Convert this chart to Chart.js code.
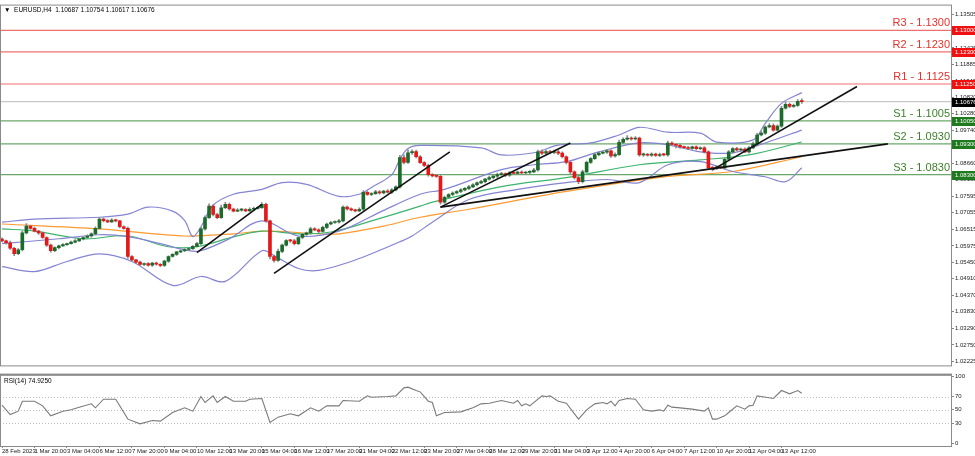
<!DOCTYPE html>
<html>
<head>
<meta charset="utf-8">
<script src="https://cdn.jsdelivr.net/npm/chart.js@4.4.0/dist/chart.umd.min.js"></script>
<style>
  html, body { margin: 0; background: #fff; }
  #main { position: absolute; left: 0; top: 0; width: 975px; height: 370px; }
  #rsi { position: absolute; left: 0; top: 370px; width: 975px; height: 86px; }
</style>
</head>
<body>
<div id="main"><canvas id="c1"></canvas></div>
<div id="rsi"><canvas id="c2"></canvas></div>
<script>
// EURUSD H4 — bougies, bandes de Bollinger, moyennes mobiles, RSI(14)

const closes = [
  1.0614,1.0608,1.0590,1.0572,1.0585,1.0640,1.0662,1.0655,1.0646,1.0640,
  1.0625,1.0600,1.0582,1.0592,1.0598,1.0602,1.0605,1.0610,1.0614,1.0620,
  1.0625,1.0630,1.0637,1.0655,1.0685,1.0680,1.0676,1.0682,1.0679,1.0660,
  1.0655,1.0563,1.0552,1.0545,1.0537,1.0540,1.0535,1.0542,1.0538,1.0534,
  1.0548,1.0563,1.0570,1.0578,1.0582,1.0586,1.0589,1.0596,1.0605,1.0653,
  1.0690,1.0727,1.0700,1.0690,1.0722,1.0733,1.0718,1.0711,1.0714,1.0716,
  1.0712,1.0717,1.0720,1.0722,1.0733,1.0679,1.0563,1.0550,1.0580,1.0600,
  1.0615,1.0614,1.0605,1.0625,1.0635,1.0640,1.0653,1.0650,1.0645,1.0658,
  1.0669,1.0674,1.0676,1.0679,1.0724,1.0718,1.0715,1.0712,1.0717,1.0772,
  1.0765,1.0768,1.0774,1.0770,1.0776,1.0773,1.0780,1.0790,1.0885,1.0870,
  1.0901,1.0905,1.0888,1.0869,1.0860,1.0830,1.0826,1.0824,1.0740,1.0756,
  1.0765,1.0770,1.0775,1.0780,1.0785,1.0790,1.0797,1.0803,1.0807,1.0815,
  1.0820,1.0825,1.0830,1.0833,1.0828,1.0836,1.0834,1.0838,1.0835,1.0837,
  1.0839,1.0845,1.0904,1.0900,1.0905,1.0902,1.0904,1.0900,1.0888,1.0870,
  1.0839,1.0820,1.0807,1.0839,1.0870,1.0882,1.0895,1.0900,1.0903,1.0907,
  1.0891,1.0895,1.0935,1.0945,1.0949,1.0946,1.0949,1.0894,1.0896,1.0893,
  1.0897,1.0892,1.0895,1.0894,1.0933,1.0928,1.0925,1.0920,1.0918,1.0915,
  1.0920,1.0914,1.0917,1.0904,1.0852,1.0850,1.0855,1.0852,1.0880,1.0904,
  1.0915,1.0910,1.0913,1.0904,1.0917,1.0930,1.0959,1.0965,1.0985,1.0990,
  1.0975,1.0988,1.1046,1.1059,1.1052,1.1055,1.10687,1.10676
];
// mèches hautes / basses, en pips
const hiWick = [
  4,3,5,3,4,6,8,3,4,2, 3,2,4,3,2,3,2,3,4,3, 3,4,3,5,6,4,3,5,3,2, 3,4,3,2,3,2,3,2,3,2,
  3,2,3,2,2,3,2,3,4,5, 6,8,5,4,9,7,4,3,5,4, 3,5,4,3,6,4,3,5,7,4, 3,4,5,3,4,3,5,4,3,4,
  3,4,3,5,4,3,4,3,5,6, 4,3,5,4,3,5,4,3,8,9, 10,6,5,4,3,4,3,4,5,4, 3,4,3,4,3,5,4,3,4,3,
  4,3,5,4,3,4,5,3,4,3, 4,5,6,7,5,4,6,5,4,3, 4,3,5,6,4,3,5,4,3,5, 4,6,7,5,8,4,5,3,4,3,
  4,3,5,4,6,4,3,4,3,4, 3,4,3,4,3,5,4,3,5,4, 3,4,3,4,5,6,5,7,4,6, 5,4,6,7,4,5,6,7.8
];
const loWick = [
  3,5,4,6,3,4,3,4,3,5, 3,4,5,3,4,2,3,2,3,2, 3,2,4,3,3,4,3,2,3,4, 3,6,4,5,3,4,3,4,3,4,
  3,4,2,3,2,3,4,3,2,3, 4,3,5,4,3,3,4,3,2,3, 3,2,4,3,2,4,8,5,3,4, 3,5,4,3,4,3,4,3,5,3,
  4,3,3,4,3,4,3,4,3,4, 3,4,3,4,3,3,4,3,4,5, 4,5,4,3,4,5,4,3,6,4, 3,4,3,4,3,4,3,4,3,4,
  3,4,6,3,5,4,3,4,3,4, 4,3,4,5,4,3,4,5,4,5, 6,5,7,4,3,4,3,4,3,4, 5,4,3,4,3,4,3,4,5,3,
  4,3,4,3,4,3,8,4,3,4, 3,4,3,4,5,8,4,3,4,3, 4,3,4,3,4,3,4,3,4,3, 4,3,4,3,4,3,3,5.9
];

// indicateurs : [index de bougie, prix]
const bbUpper = [[0,1.0675],[8,1.0685],[24,1.0691],[31,1.0701],[36,1.0724],[42,1.0711],[45,1.0680],[47,1.0628],[49,1.0660],[52,1.0730],[57,1.0766],[64,1.0782],[69,1.0804],[75,1.0798],[83,1.0759],[88,1.0766],[91,1.0788],[96,1.0830],[98,1.0880],[100,1.0915],[103,1.0925],[118,1.0917],[123,1.0894],[131,1.0901],[137,1.0926],[145,1.0933],[152,1.0959],[157,1.0984],[164,1.0968],[172,1.0965],[176,1.0936],[185,1.0943],[188,1.0997],[192,1.1062],[197,1.1097]];
const bbMiddle = [[0,1.0605],[14,1.0621],[24,1.0634],[31,1.0628],[39,1.0605],[46,1.0582],[49,1.0582],[56,1.0621],[64,1.0679],[73,1.0630],[83,1.0646],[93,1.0707],[103,1.0766],[109,1.0782],[123,1.0846],[131,1.0862],[139,1.0872],[147,1.0904],[157,1.0933],[164,1.0927],[172,1.0904],[180,1.0901],[188,1.0933],[197,1.0975]];
const bbLower = [[0,1.0530],[8,1.0514],[16,1.0547],[24,1.0572],[32,1.0547],[42,1.0469],[49,1.0498],[55,1.0482],[64,1.0582],[67,1.0566],[73,1.0524],[78,1.0518],[86,1.0547],[91,1.0572],[98,1.0611],[101,1.0630],[106,1.0675],[115,1.0749],[127,1.0782],[139,1.0804],[149,1.0814],[157,1.0804],[164,1.0862],[172,1.0872],[180,1.0840],[188,1.0823],[193,1.0807],[197,1.0852]];
const maFast = [[0,1.0653],[8,1.0646],[20,1.0621],[31,1.0630],[41,1.0595],[48,1.0595],[57,1.0627],[64,1.0646],[73,1.0637],[81,1.0643],[90,1.0675],[103,1.0727],[106,1.0740],[123,1.0791],[139,1.0820],[157,1.0862],[172,1.0878],[184,1.0894],[197,1.0936]];
const maSlow = [[0,1.0669],[24,1.0653],[45,1.0630],[57,1.0637],[65,1.0646],[78,1.0637],[83,1.0637],[94,1.0662],[103,1.0691],[115,1.0717],[139,1.0775],[164,1.0824],[180,1.0840],[197,1.0888]];

// lignes de tendance tracées à la main : [i1, p1, i2, p2]
const trendLines = [
  [48, 1.0576, 64, 1.0733],
  [67, 1.0508, 110.3, 1.0904],
  [108, 1.0724, 140, 1.0933],
  [108, 1.0724, 218.2, 1.0930],
  [175.1, 1.0846, 210.6, 1.1117]
];

const levelNames = ["R3", "R2", "R1", "S1", "S2", "S3"];
const levelValues = [1.1300, 1.1230, 1.1125, 1.1005, 1.0930, 1.0830];
const lastPrice = 1.10676;

const priceTicks = [1.13505,1.12965,1.12425,1.11885,1.11345,1.10820,1.10280,1.09740,1.09200,1.08660,1.08135,1.07595,1.07055,1.06515,1.05975,1.05450,1.04910,1.04370,1.03830,1.03290,1.02750,1.02225];

const rsiIdx = [0,2,4,5,8,10,12,15,17,19,22,23,25,28,29,31,34,37,39,42,45,47,49,50,52,53,55,57,60,61,64,66,68,71,73,76,78,80,83,84,88,90,91,95,97,99,100,102,103,105,106,107,109,113,116,118,120,123,126,127,128,129,130,133,134,135,137,139,142,144,146,148,149,150,151,152,154,156,158,160,162,163,164,165,167,170,173,174,175,176,178,179,181,183,184,185,186,187,190,192,194,196,197];
const rsiVal = [57,43,48,63,63,56,41,48,50,54,59,53,66,66,56,36,29,34,33,46,53,48,70,61,71,61,70,63,63,66,67,31,39,44,41,53,48,56,56,64,63,71,69,70,71,83,84,79,77,63,61,41,46,47,53,59,60,64,60,64,56,59,56,71,70,71,63,60,36,50,59,61,59,63,56,64,67,66,50,48,50,48,57,54,53,51,48,53,36,36,41,46,56,51,56,57,71,70,67,79,74,79,74.9];

const dateLabels = ["28 Feb 2023","1 Mar 20:00","3 Mar 04:00","6 Mar 12:00","7 Mar 20:00","9 Mar 04:00","10 Mar 12:00","13 Mar 20:00","15 Mar 04:00","16 Mar 12:00","17 Mar 20:00","21 Mar 04:00","22 Mar 12:00","23 Mar 20:00","27 Mar 04:00","28 Mar 12:00","29 Mar 20:00","31 Mar 04:00","3 Apr 12:00","4 Apr 20:00","6 Apr 04:00","7 Apr 12:00","10 Apr 20:00","12 Apr 04:00","13 Apr 12:00"];

const X_MAX = 234;
const BULL = "#1d6b2c", BEAR = "#e31818";
const SMALL = "'Liberation Sans Narrow', 'Liberation Sans', sans-serif";

const opens = closes.map((c, i) => i === 0 ? 1.0620 : closes[i - 1]);
const pts = arr => arr.map(p => ({ x: p[0], y: p[1] }));

const datasets = [];
levelValues.forEach((v, k) => {
  datasets.push({ type: "line", data: [{ x: -1, y: v }, { x: X_MAX + 1, y: v }],
    borderColor: k < 3 ? "#f07070" : "#6aa86a", borderWidth: 1.2, pointRadius: 0, order: 10 });
});
datasets.push({ type: "line", data: [{ x: -1, y: lastPrice }, { x: X_MAX + 1, y: lastPrice }],
  borderColor: "#c8c8c8", borderWidth: 1.2, pointRadius: 0, order: 10 });
[[bbUpper, "#8484d4"], [bbMiddle, "#8484d4"], [bbLower, "#8484d4"], [maFast, "#3cb46e"], [maSlow, "#ff9a2e"]]
  .forEach(([arr, col]) => datasets.push({ type: "line", data: pts(arr), borderColor: col,
    borderWidth: 1.2, pointRadius: 0, tension: 0.35, order: 5 }));
datasets.push({ type: "bar", grouped: false, barThickness: 1, backgroundColor: "#8c8c8c", order: 3,
  data: closes.map((c, i) => ({ x: i, y: [Math.min(opens[i], c) - loWick[i] / 10000, Math.max(opens[i], c) + hiWick[i] / 10000] })) });
datasets.push({ type: "bar", grouped: false, barThickness: 3, minBarLength: 1, order: 2,
  backgroundColor: closes.map((c, i) => c >= opens[i] ? BULL : BEAR),
  data: closes.map((c, i) => ({ x: i, y: [opens[i], c] })) });
trendLines.forEach(t => datasets.push({ type: "line", data: [{ x: t[0], y: t[1] }, { x: t[2], y: t[3] }],
  borderColor: "#111", borderWidth: 1.6, pointRadius: 0, order: 1 }));

const framePlugin = {
  id: "frame",
  afterDraw(chart) {
    const { ctx, chartArea: a } = chart;
    ctx.save();
    ctx.strokeStyle = "#8a8a8a";
    ctx.lineWidth = 1;
    ctx.strokeRect(a.left + 0.5, a.top + 0.5, a.right - a.left - 1, a.bottom - a.top);
    ctx.restore();
  }
};

const priceDecor = {
  id: "priceDecor",
  afterDraw(chart) {
    const { ctx, chartArea: a } = chart;
    const y = chart.scales.y;
    ctx.save();
    // libellés des niveaux
    ctx.font = "11px 'Liberation Sans'";
    ctx.textAlign = "right";
    ctx.textBaseline = "alphabetic";
    levelValues.forEach((v, k) => {
      ctx.fillStyle = k < 3 ? "#e8302a" : "#3d7f2a";
      ctx.fillText(levelNames[k] + " - " + v.toFixed(4), a.right - 2, y.getPixelForValue(v) - 4);
    });
    // étiquettes de prix sur l'axe
    ctx.font = "6px " + SMALL;
    ctx.textAlign = "left";
    ctx.textBaseline = "middle";
    const tags = levelValues.map((v, k) => [v, k < 3 ? "#f01010" : "#1f7a1f"]).concat([[lastPrice, "#000"]]);
    tags.forEach(([v, col]) => {
      const py = Math.round(y.getPixelForValue(v));
      ctx.fillStyle = col;
      ctx.fillRect(a.right, py - 4, 23, 9);
      ctx.fillStyle = "#fff";
      ctx.fillText(v.toFixed(5), a.right + 3, py + 0.5);
    });
    // en-tête
    ctx.fillStyle = "#000";
    ctx.font = "6.5px " + SMALL;
    ctx.fillText("\u25BC  EURUSD,H4  1.10687 1.10754 1.10617 1.10676", 4, a.top + 6);
    ctx.restore();
  }
};

new Chart(document.getElementById("c1"), {
  type: "bar",
  data: { datasets: datasets },
  options: {
    responsive: true, maintainAspectRatio: false, animation: false,
    layout: { padding: { top: 2, bottom: 0, left: 0, right: 0 } },
    plugins: { legend: { display: false }, tooltip: { enabled: false } },
    scales: {
      x: { type: "linear", min: -0.5, max: X_MAX, display: false, offset: false },
      y: {
        position: "right", min: 1.02084, max: 1.13837,
        afterFit(axis) { axis.width = 23; },
        afterBuildTicks(axis) { axis.ticks = priceTicks.map(v => ({ value: v })); },
        grid: { drawOnChartArea: false, tickLength: 2, color: "#888" },
        border: { display: false },
        ticks: { padding: 1, color: "#222", font: { size: 6, family: SMALL }, crossAlign: "near",
          callback: v => v.toFixed(5) }
      }
    }
  },
  plugins: [framePlugin, priceDecor]
});

const rsiDecor = {
  id: "rsiDecor",
  beforeDatasetsDraw(chart) {
    const { ctx, chartArea: a } = chart;
    const y = chart.scales.y;
    ctx.save();
    ctx.strokeStyle = "#bdbdbd";
    ctx.setLineDash([1, 2]);
    [70, 50, 30].forEach(v => {
      const py = Math.round(y.getPixelForValue(v)) + 0.5;
      ctx.beginPath(); ctx.moveTo(a.left, py); ctx.lineTo(a.right, py); ctx.stroke();
    });
    ctx.setLineDash([]);
    ctx.fillStyle = "#000";
    ctx.font = "6.5px " + SMALL;
    ctx.textBaseline = "middle";
    ctx.fillText("RSI(14) 74.9250", 4, a.top + 7);
    ctx.restore();
  },
  afterDraw(chart) {
    const { ctx, chartArea: a } = chart;
    ctx.save();
    ctx.fillStyle = "#8a8a8a";
    ctx.fillRect(a.left, a.top - 1, a.right - a.left, 2);
    ctx.restore();
  }
};

new Chart(document.getElementById("c2"), {
  type: "line",
  data: { datasets: [{ data: rsiIdx.map((x, k) => ({ x: x, y: rsiVal[k] })), borderColor: "#7a7a7a",
    borderWidth: 1.1, pointRadius: 0, tension: 0 }] },
  options: {
    responsive: true, maintainAspectRatio: false, animation: false,
    layout: { padding: { top: 1, bottom: 0, left: 0, right: 0 } },
    plugins: { legend: { display: false }, tooltip: { enabled: false } },
    scales: {
      x: {
        type: "linear", min: -0.5, max: X_MAX,
        afterBuildTicks(axis) { axis.ticks = dateLabels.map((_, k) => ({ value: k * 8 })); },
        afterFit(axis) { axis.height = 10; },
        grid: { drawOnChartArea: false, tickLength: 2, color: "#888" },
        border: { display: false },
        ticks: { autoSkip: false, maxRotation: 0, align: "start", padding: 0, color: "#222",
          font: { size: 6, family: SMALL }, callback: v => dateLabels[v / 8] }
      },
      y: {
        position: "right", min: -4.3, max: 102.9,
        afterFit(axis) { axis.width = 23; },
        afterBuildTicks(axis) { axis.ticks = [0, 30, 50, 70, 100].map(v => ({ value: v })); },
        grid: { drawOnChartArea: false, tickLength: 2, color: "#888" },
        border: { display: false },
        ticks: { padding: 1, color: "#222", font: { size: 6, family: SMALL }, crossAlign: "near" }
      }
    }
  },
  plugins: [framePlugin, rsiDecor]
});
</script>
</body>
</html>
